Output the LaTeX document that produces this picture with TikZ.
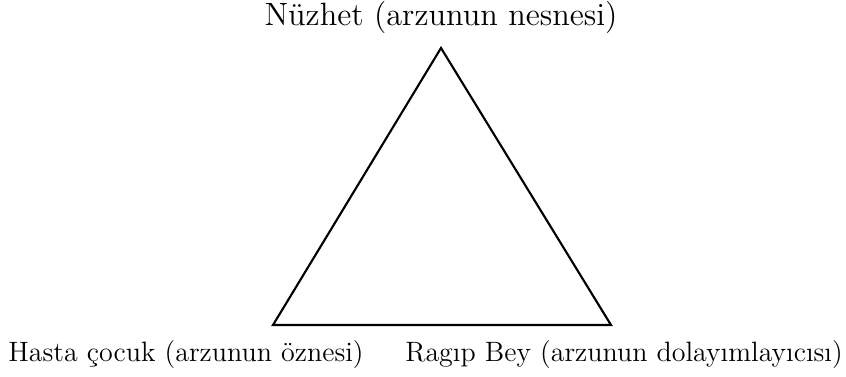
\documentclass[tikz,border=0pt]{standalone}
\usepackage{tikz}
\usetikzlibrary{positioning}

\begin{document}
\begin{tikzpicture}[
  x=0.4pt, y=-0.4pt,
  lbl/.style={anchor=base, inner sep=0pt, font=\fontsize{11.2}{14}\selectfont},
  toplbl/.style={lbl, font=\fontsize{12.9}{15}\selectfont},
  edge/.style={line width=0.85pt, line join=miter},
]
\useasboundingbox (0,0) rectangle (846,376);
\coordinate (nuzhet) at (441,48);
\coordinate (cocuk) at (273,325);
\coordinate (ragip) at (611,325);
\node[toplbl] (nuzhetlbl) at (441,25) {Nüzhet (arzunun nesnesi)};
\node[lbl] (cocuklbl) at (186,361) {Hasta çocuk (arzunun öznesi)};
\node[lbl] (ragiplbl) at (624,361) {Ragıp Bey (arzunun dolayımlayıcısı)};
\draw[edge] (nuzhet) -- (cocuk) -- (ragip) -- cycle;
\end{tikzpicture}
\end{document}
